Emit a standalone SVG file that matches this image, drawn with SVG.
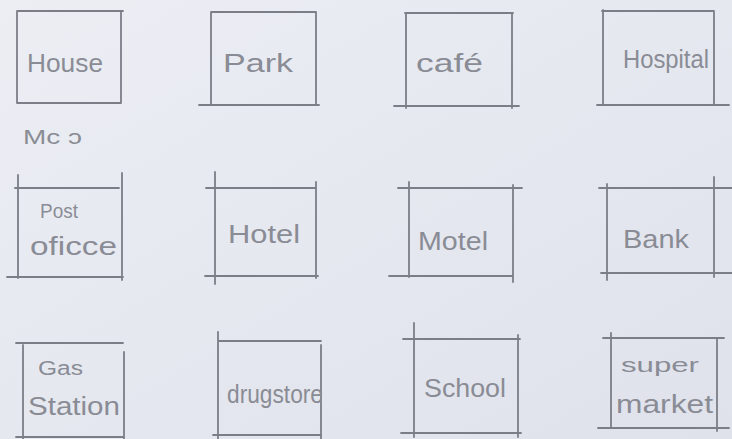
<svg xmlns="http://www.w3.org/2000/svg" width="732" height="439" viewBox="0 0 732 439">
<defs>
<linearGradient id="bg" x1="0" y1="0" x2="1" y2="1">
<stop offset="0" stop-color="#eceef4"/>
<stop offset="1" stop-color="#dfe2eb"/>
</linearGradient>
</defs>
<style>
.ln{fill:none;stroke:#7c7e87;stroke-width:1.8;stroke-linecap:round}
.t{font-family:"Liberation Sans","DejaVu Sans",sans-serif;font-size:25px;fill:#8a8c95}
.s{font-size:20px}
</style>
<rect width="732" height="439" fill="url(#bg)"/>
<g id="connectors"></g>
<g id="house"><path class="ln" d="M17,11H123M17,103H121M17,11V103M121,12V103"/><text class="t" x="27" y="72" textLength="76" lengthAdjust="spacingAndGlyphs">House</text></g>
<g id="park"><path class="ln" d="M211,12H316M199,105H319M211,12V105M316,12V105"/><text class="t" x="223" y="72" textLength="70" lengthAdjust="spacingAndGlyphs">Park</text></g>
<g id="cafe"><path class="ln" d="M405,13H513M394,106H519M406,13V108M512,13V108"/><text class="t" x="416" y="72" textLength="67" lengthAdjust="spacingAndGlyphs">café</text></g>
<g id="hospital"><path class="ln" d="M602,11H714M597,105H729M603,10V105M714,12V105"/><text class="t" x="623" y="68" textLength="86" lengthAdjust="spacingAndGlyphs">Hospital</text></g>
<g id="note"><text class="t s" x="23" y="144" textLength="59" lengthAdjust="spacingAndGlyphs">Mc ɔ</text></g>
<g id="post-office"><path class="ln" d="M15,188H119M7,277H123M18,175V278M122,173V280"/><text class="t s" x="40" y="218" textLength="38" lengthAdjust="spacingAndGlyphs">Post</text><text class="t" x="30" y="255" textLength="87" lengthAdjust="spacingAndGlyphs">oficce</text></g>
<g id="hotel"><path class="ln" d="M206,188H316M205,276H318M215,172V284M316,182V278"/><text class="t" x="228" y="243" textLength="72" lengthAdjust="spacingAndGlyphs">Hotel</text></g>
<g id="motel"><path class="ln" d="M398,188H522M389,276H513M409,182V277M513,185V282"/><text class="t" x="418" y="250" textLength="70" lengthAdjust="spacingAndGlyphs">Motel</text></g>
<g id="bank"><path class="ln" d="M599,188H732M601,273H732M607,184V280M714,177V277"/><text class="t" x="623" y="248" textLength="66" lengthAdjust="spacingAndGlyphs">Bank</text></g>
<g id="gas-station"><path class="ln" d="M16,343H123M16,437H123M23,345V439M124,352V439"/><text class="t s" x="38" y="375" textLength="45" lengthAdjust="spacingAndGlyphs">Gas</text><text class="t" x="28" y="415" textLength="92" lengthAdjust="spacingAndGlyphs">Station</text></g>
<g id="drugstore"><path class="ln" d="M218,341H321M213,435H321M218,332V439M321,345V439"/><text class="t" x="227" y="403" textLength="96" lengthAdjust="spacingAndGlyphs">drugstore</text></g>
<g id="school"><path class="ln" d="M403,339H520M401,433H521M414,323V437M518,335V437"/><text class="t" x="424" y="397" textLength="82" lengthAdjust="spacingAndGlyphs">School</text></g>
<g id="supermarket"><path class="ln" d="M603,338H724M598,428H729M611,333V428M717,338V431"/><text class="t s" x="621" y="372" textLength="78" lengthAdjust="spacingAndGlyphs">super</text><text class="t" x="616" y="413" textLength="97" lengthAdjust="spacingAndGlyphs">market</text></g>
</svg>
